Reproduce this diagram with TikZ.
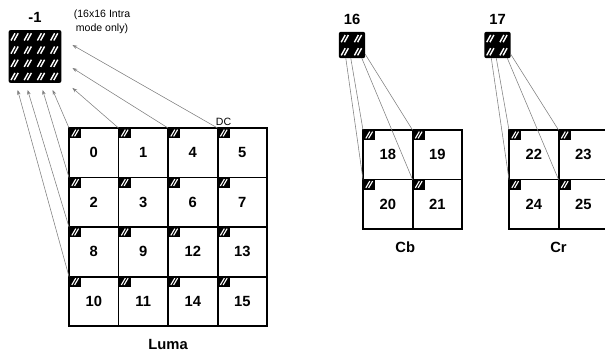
\documentclass[tikz,border=0pt]{standalone}
\usepackage{fontspec}
\setmainfont{Liberation Sans}
\usetikzlibrary{calc,arrows.meta,positioning}
% small hatched corner mark of a block
\newcommand{\hatchmark}[1]{%
  \fill[black] #1 rectangle ++(0.3cm,-0.25cm);
  \draw[white, line width=0.8pt] ($#1+(0.07cm,-0.21cm)$) -- ++(0.1cm,0.17cm);
  \draw[white, line width=0.8pt] ($#1+(0.14cm,-0.21cm)$) -- ++(0.1cm,0.17cm);}
% hatched DC sub-squares inside a black block
\newcommand{\dcblock}[2]{%
  \foreach \i in {1,...,#2}
    \foreach \j in {1,...,#2} {
      \draw[white, line width=1pt] ($(#1.north west)+(\i*0.33cm-0.27cm,-\j*0.33cm+0.07cm)$) -- ++(0.1cm,0.18cm);
      \draw[white, line width=1pt] ($(#1.north west)+(\i*0.33cm-0.19cm,-\j*0.33cm+0.07cm)$) -- ++(0.1cm,0.18cm);
    }}
\tikzset{
  cell/.style={draw, line width=1.4pt, minimum size=1.2375cm, inner sep=0pt, outer sep=0pt,
    font=\fontsize{10.5}{12}\selectfont\bfseries,
    path picture={\hatchmark{(path picture bounding box.north west)}}},
  dcbox/.style={fill=black, rounded corners=1.5pt, inner sep=0pt, outer sep=0pt, minimum size=#1},
  tag/.style={font=\fontsize{10.5}{12}\selectfont\bfseries, inner sep=2pt},
  note/.style={font=\fontsize{7.5}{10}\selectfont, align=center, inner sep=1pt},
  feed/.style={-{Stealth[length=3.5pt,width=2.5pt]}, gray, line width=0.4pt},
  link/.style={gray, line width=0.4pt}
}
\begin{document}
\begin{tikzpicture}[x=0.025cm, y=-0.025cm]
\useasboundingbox (0,0) rectangle (605,353);
% Luma DC block
\node[dcbox=1.32cm] (dcluma) at (35,56.5) {};
\dcblock{dcluma}{4}
\node[tag, above=3pt of dcluma] (lumaidx) {-1};
\node[note] (intra) at (102,22) {(16x16 Intra\\mode only)};
% Luma 4x4 grid
\node[cell, anchor=north west] (b0) at (69,128) {0};
\node[cell, right=0pt of b0] (b1) {1};
\node[cell, right=0pt of b1] (b4) {4};
\node[cell, right=0pt of b4] (b5) {5};
\node[cell, below=0pt of b0] (b2) {2};
\node[cell, right=0pt of b2] (b3) {3};
\node[cell, right=0pt of b3] (b6) {6};
\node[cell, right=0pt of b6] (b7) {7};
\node[cell, below=0pt of b2] (b8) {8};
\node[cell, right=0pt of b8] (b9) {9};
\node[cell, right=0pt of b9] (b12) {12};
\node[cell, right=0pt of b12] (b13) {13};
\node[cell, below=0pt of b8] (b10) {10};
\node[cell, right=0pt of b10] (b11) {11};
\node[cell, right=0pt of b11] (b14) {14};
\node[cell, right=0pt of b14] (b15) {15};
\node[note, anchor=south] (dc) at ($(b5.north west)+(6,-1)$) {DC};
\node[tag, below=7pt of b11.south east] (luma) {Luma};
% Cb DC block and grid
\node[dcbox=0.66cm] (dccb) at (352,45) {};
\dcblock{dccb}{2}
\node[tag, above=3pt of dccb] (cbidx) {16};
\node[cell, anchor=north west] (c18) at (363,130) {18};
\node[cell, right=0pt of c18] (c19) {19};
\node[cell, below=0pt of c18] (c20) {20};
\node[cell, right=0pt of c20] (c21) {21};
\node[tag, below=7pt of c20.south east, xshift=-0.18cm] (cb) {Cb};
% Cr DC block and grid
\node[dcbox=0.66cm] (dccr) at (497.5,45) {};
\dcblock{dccr}{2}
\node[tag, above=3pt of dccr] (cridx) {17};
\node[cell, anchor=north west] (c22) at (509,130) {22};
\node[cell, right=0pt of c22] (c23) {23};
\node[cell, below=0pt of c22] (c24) {24};
\node[cell, right=0pt of c24] (c25) {25};
\node[tag, below=7pt of c24.south east] (cr) {Cr};
% Luma DC arrows
\draw[feed] (b5.north west) -- ($(dcluma.east)+(11,-11.5)$);
\draw[feed] (b4.north west) -- ($(dcluma.east)+(11,11.5)$);
\draw[feed] (b1.north west) -- ($(dcluma.south east)+(11,5)$);
\draw[feed] (b0.north west) -- ($(dcluma.south west)+(44,7)$);
\draw[feed] (b2.north west) -- ($(dcluma.south west)+(34,7)$);
\draw[feed] (b8.north west) -- ($(dcluma.south west)+(19,7)$);
\draw[feed] (b10.north west) -- ($(dcluma.south west)+(9,7)$);
% Chroma DC links
\draw[link] ($(dccb.south west)+(7,0)$) -- (c20.north west);
\draw[link] ($(dccb.south west)+(12,0)$) -- (c18.north west);
\draw[link] ($(dccb.south west)+(23,0)$) -- (c21.north west);
\draw[link] ($(dccb.south east)+(0,-4)$) -- (c19.north west);
\draw[link] ($(dccr.south west)+(7,0)$) -- (c24.north west);
\draw[link] ($(dccr.south west)+(12,0)$) -- (c22.north west);
\draw[link] ($(dccr.south west)+(23,0)$) -- (c25.north west);
\draw[link] ($(dccr.south east)+(0,-4)$) -- (c23.north west);
\end{tikzpicture}
\end{document}
